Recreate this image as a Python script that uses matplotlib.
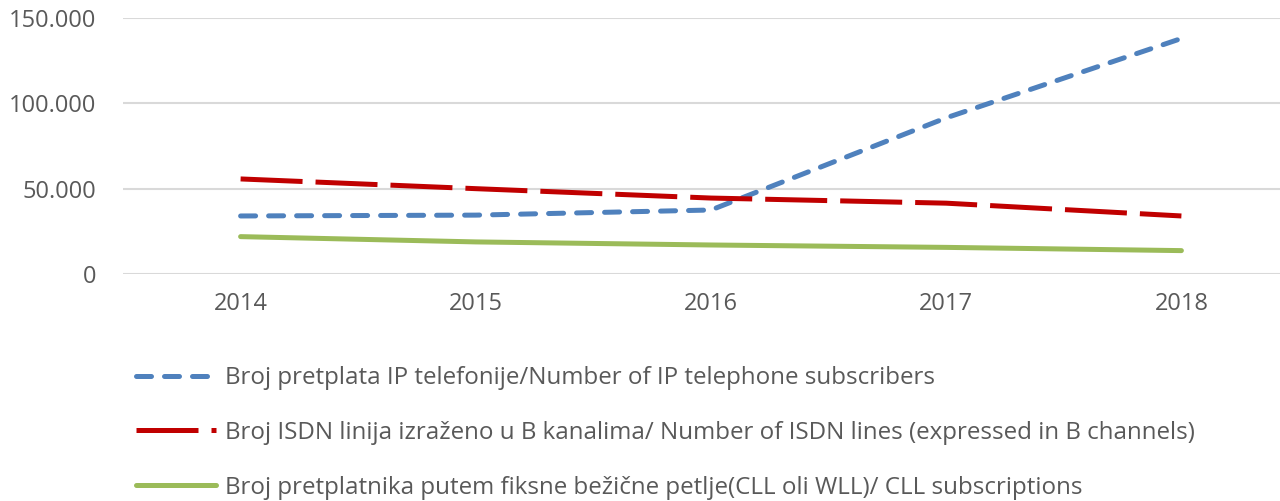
import matplotlib.pyplot as plt

plt.rcParams['font.family'] = ['Open Sans', 'DejaVu Sans']

# --- data ---
years = ['2014', '2015', '2016', '2017', '2018']
ip_subs = [34000, 34500, 37500, 91500, 138000]
isdn_lines = [55700, 50000, 44500, 41500, 34000]
cll_subs = [21900, 18800, 17000, 15600, 13700]

labels = [
    'Broj pretplata IP telefonije/Number of IP telephone subscribers',
    'Broj ISDN linija izraženo u B kanalima/ Number of ISDN lines (expressed in B channels)',
    'Broj pretplatnika putem fiksne bežične petlje(CLL oli WLL)/ CLL subscriptions',
]

W, H = 1280, 501
fig = plt.figure(figsize=(W / 100, H / 100), dpi=100)
ax = fig.add_axes([123 / W, 1 - 274 / H, (1299 - 123) / W, (274 - 18) / H])

x = range(len(years))
ax.plot(x, ip_subs, color='#4f81bd', lw=3.6, ls=(0, (3, 2.6)),
        dash_capstyle='round', solid_capstyle='round', label=labels[0])
ax.plot(x, isdn_lines, color='#c00000', lw=3.6, ls=(0, (12.4, 2.6)),
        dash_capstyle='butt', label=labels[1])
ax.plot(x, cll_subs, color='#9bbb59', lw=3.6, solid_capstyle='round',
        label=labels[2])

ax.set_xlim(-0.5, 4.5)
ax.set_ylim(0, 150000)
ax.set_xticks(list(x))
ax.set_xticklabels(years)
ax.set_yticks([0, 50000, 100000, 150000])
ax.set_yticklabels(['0', '50.000', '100.000', '150.000'])
ax.tick_params(axis='both', length=0, labelsize=17, colors='#595959')
ax.tick_params(axis='x', pad=13)
ax.tick_params(axis='y', pad=19)
ax.grid(axis='y', color='#d9d9d9', lw=1.5)
ax.set_axisbelow(True)
for s in ax.spines.values():
    s.set_visible(False)

leg = fig.legend(loc='upper left', bbox_to_anchor=(136 / W, 1 - 366 / H),
                 frameon=False, fontsize=17.4, handlelength=3.3,
                 handletextpad=0.4, labelspacing=1.28, borderpad=0,
                 borderaxespad=0)
for t in leg.get_texts():
    t.set_color('#595959')

fig.savefig('out.png', dpi=100)
